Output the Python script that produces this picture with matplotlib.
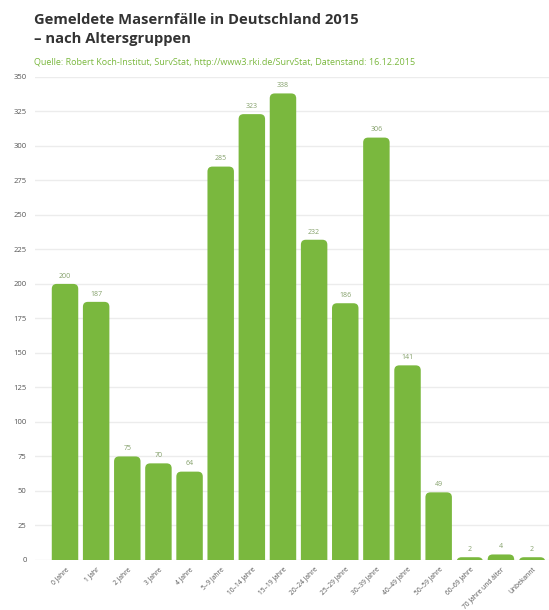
import matplotlib.pyplot as plt
from matplotlib.patches import FancyBboxPatch
import numpy as np

# Daten
kategorien = ['0 Jahre', '1 Jahr', '2 Jahre', '3 Jahre', '4 Jahre', '5–9 Jahre',
              '10–14 Jahre', '15–19 Jahre', '20–24 Jahre', '25–29 Jahre',
              '30–39 Jahre', '40–49 Jahre', '50–59 Jahre', '60–69 Jahre',
              '70 Jahre und älter', 'Unbekannt']
faelle = [200, 187, 75, 70, 64, 285, 323, 338, 232, 186, 306, 141, 49, 2, 4, 2]
y_ticks = list(range(0, 351, 25))

plt.rcParams['font.family'] = ['Open Sans', 'DejaVu Sans']

fig = plt.figure(figsize=(5.49, 6.10), dpi=100)
ax = fig.add_axes([0.0638, 0.082, 0.936, 0.792])

x = np.arange(len(kategorien))
xmin, xmax = -0.963, 15.54
ax.set_ylim(0, 350)
ax.set_xlim(xmin, xmax)

# Balken mit abgerundeten oberen Ecken (unterer Teil wird abgeschnitten)
breite = 0.85
px_w = 0.936 * 549
px_h = 0.792 * 610
aspekt = (350 / px_h) / ((xmax - xmin) / px_w)
for xi, v in zip(x, faelle):
    p = FancyBboxPatch((xi - breite / 2, -10), breite, v + 10,
                       boxstyle='round,pad=0,rounding_size=0.16',
                       mutation_aspect=aspekt, facecolor='#7ab83e',
                       edgecolor='none', zorder=3)
    ax.add_patch(p)
    ax.text(xi, v + 3, str(v), ha='center', va='bottom', fontsize=5,
            color='#84a06a', zorder=4)

ax.set_yticks(y_ticks)
ax.set_yticklabels([str(t) for t in y_ticks], fontsize=5.5, color='#555555')
ax.grid(axis='y', color='#ececec', linewidth=1, zorder=0)
ax.set_xticks(x)
ax.set_xticklabels(kategorien, rotation=45, ha='right', rotation_mode='anchor',
                   fontsize=4.8, color='#555555')
ax.tick_params(axis='x', length=0, pad=4)
ax.tick_params(axis='y', length=0, pad=6)
for s in ax.spines.values():
    s.set_visible(False)

fig.text(0.062, 0.978, 'Gemeldete Masernfälle in Deutschland 2015\n– nach Altersgruppen',
         fontsize=10.6, fontweight='bold', color='#333333', va='top', linespacing=1.45)
fig.text(0.062, 0.897, 'Quelle: Robert Koch-Institut, SurvStat, http://www3.rki.de/SurvStat, Datenstand: 16.12.2015',
         fontsize=6.5, color='#7ab83e', va='center')

fig.savefig('out.png', dpi=100, facecolor='white')
